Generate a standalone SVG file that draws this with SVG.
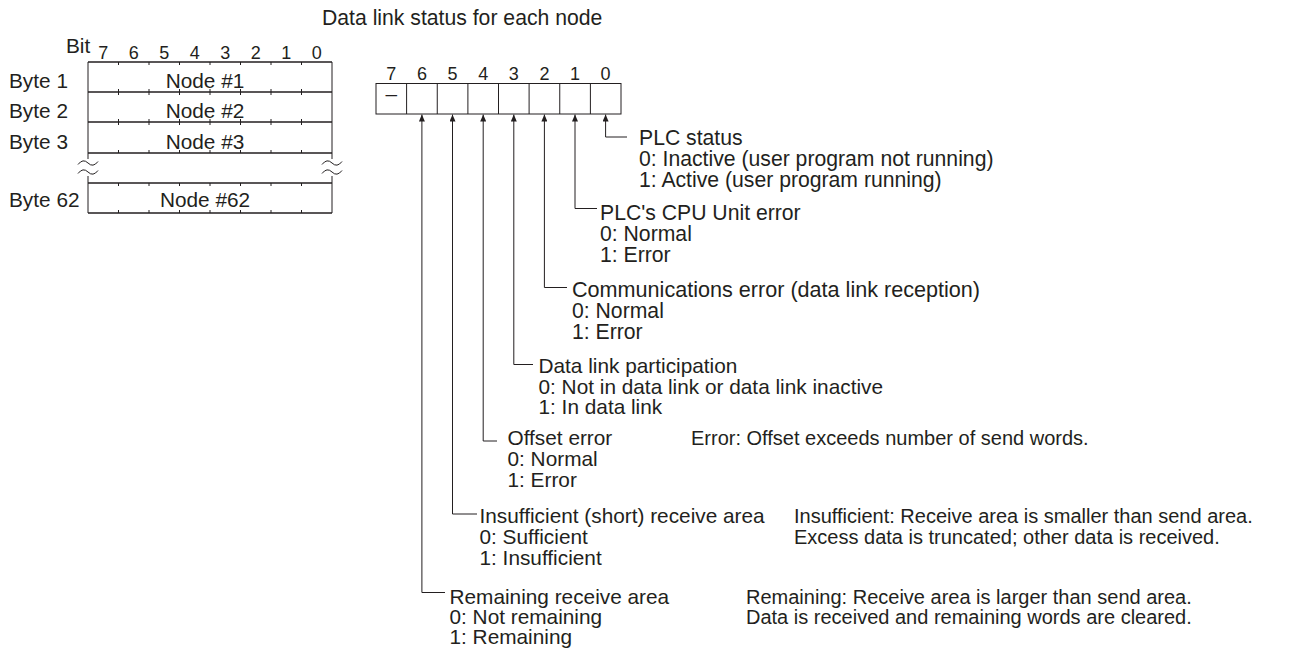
<svg xmlns="http://www.w3.org/2000/svg" width="1298" height="650" viewBox="0 0 1298 650">
  <style>
    text { font-family: "Liberation Sans", Arial, Helvetica, sans-serif; fill: #231f20; }
    .lbl { font-size: 20.8px; }
    .big { font-size: 21.2px; }
    .desc { font-size: 20px; }
    .dig { font-size: 18px; text-anchor: middle; }
    .mid { text-anchor: middle; }
    .hl { fill: none; stroke: #231f20; stroke-width: 1.5; }
    .vl { fill: none; stroke: #231f20; stroke-width: 1; }
    .tk { fill: none; stroke: #231f20; stroke-width: 1; }
    .conn { fill: none; stroke: #231f20; stroke-width: 1; }
  </style>
  <defs>
    <marker id="arr" viewBox="0 0 7 6" refX="7" refY="3" markerWidth="7" markerHeight="6" markerUnits="userSpaceOnUse" orient="auto">
      <path d="M0,0 L7,3 L0,6 z" fill="#231f20"/>
    </marker>
  </defs>
  <rect width="1298" height="650" fill="#ffffff"/>

  <text id="title" class="big" x="322" y="25">Data link status for each node</text>

  <g id="byte-table">
    <text class="lbl" x="66" y="53">Bit</text>
    <text class="dig" x="103.3" y="59">7</text>
    <text class="dig" x="133.8" y="59">6</text>
    <text class="dig" x="164.3" y="59">5</text>
    <text class="dig" x="194.8" y="59">4</text>
    <text class="dig" x="225.3" y="59">3</text>
    <text class="dig" x="255.8" y="59">2</text>
    <text class="dig" x="286.3" y="59">1</text>
    <text class="dig" x="316.8" y="59">0</text>
    <path class="hl" d="M88 62 H332 M88 92 H332 M88 122 H332 M88 153 H332 M88 183 H332 M88 213 H332"/>
    <path class="vl" d="M88 62 V159 M88 176 V213 M332 62 V159 M332 176 V213"/>
    <path class="vl" d="M78 164.5 Q83 158 88 163 Q93 168 98 161.5 M78 173.5 Q83 167 88 172 Q93 177 98 170.5 M322 164.5 Q327 158 332 163 Q337 168 342 161.5 M322 173.5 Q327 167 332 172 Q337 177 342 170.5"/>
    <path class="tk" d="M118.5 62 V65 M118.5 89 V95 M118.5 119 V125 M118.5 150 V153 M118.5 183 V186 M118.5 210 V213
      M149 62 V65 M149 89 V95 M149 119 V125 M149 150 V153 M149 183 V186 M149 210 V213
      M179.5 62 V65 M179.5 89 V95 M179.5 119 V125 M179.5 150 V153 M179.5 183 V186 M179.5 210 V213
      M210 62 V65 M210 89 V95 M210 119 V125 M210 150 V153 M210 183 V186 M210 210 V213
      M240.5 62 V65 M240.5 89 V95 M240.5 119 V125 M240.5 150 V153 M240.5 183 V186 M240.5 210 V213
      M271 62 V65 M271 89 V95 M271 119 V125 M271 150 V153 M271 183 V186 M271 210 V213
      M301.5 62 V65 M301.5 89 V95 M301.5 119 V125 M301.5 150 V153 M301.5 183 V186 M301.5 210 V213"/>
    <text class="lbl" x="9" y="88">Byte 1</text>
    <text class="lbl" x="9" y="118">Byte 2</text>
    <text class="lbl" x="9" y="149">Byte 3</text>
    <text class="lbl" x="9" y="207">Byte 62</text>
    <text class="lbl mid" x="205" y="88">Node #1</text>
    <text class="lbl mid" x="205" y="118">Node #2</text>
    <text class="lbl mid" x="205" y="149">Node #3</text>
    <text class="lbl mid" x="205" y="207">Node #62</text>
  </g>

  <g id="bit-register">
    <text class="dig" x="391.3" y="80">7</text>
    <text class="dig" x="421.9" y="80">6</text>
    <text class="dig" x="452.5" y="80">5</text>
    <text class="dig" x="483.2" y="80">4</text>
    <text class="dig" x="513.8" y="80">3</text>
    <text class="dig" x="544.4" y="80">2</text>
    <text class="dig" x="575" y="80">1</text>
    <text class="dig" x="605.6" y="80">0</text>
    <rect x="376" y="83.5" width="245" height="30.5" fill="none" stroke="#231f20" stroke-width="1"/>
    <path class="vl" d="M406.6 83.5 V114 M437.25 83.5 V114 M467.9 83.5 V114 M498.5 83.5 V114 M529.1 83.5 V114 M559.75 83.5 V114 M590.4 83.5 V114"/>
    <text class="lbl mid" x="391.3" y="101">–</text>
  </g>

  <g id="connectors">
    <path class="conn" marker-end="url(#arr)" d="M627 137 H605.6 V114.5"/>
    <path class="conn" marker-end="url(#arr)" d="M597 208.5 H575 V114.5"/>
    <path class="conn" marker-end="url(#arr)" d="M567 287.5 H544.4 V114.5"/>
    <path class="conn" marker-end="url(#arr)" d="M533 364.5 H513.8 V114.5"/>
    <path class="conn" marker-end="url(#arr)" d="M497 441 H483.2 V114.5"/>
    <path class="conn" marker-end="url(#arr)" d="M477 514 H452.5 V114.5"/>
    <path class="conn" marker-end="url(#arr)" d="M445 592.5 H421.9 V114.5"/>
  </g>

  <g id="bit0-plc-status">
    <text class="big" x="639" y="144.5">PLC status</text>
    <text class="big" x="639" y="165.5">0: Inactive (user program not running)</text>
    <text class="big" x="639" y="186.5">1: Active (user program running)</text>
  </g>

  <g id="bit1-cpu-error">
    <text class="big" x="600" y="220">PLC's CPU Unit error</text>
    <text class="big" x="600" y="241">0: Normal</text>
    <text class="big" x="600" y="262">1: Error</text>
  </g>

  <g id="bit2-comm-error">
    <text class="big" x="572" y="297" style="font-size:21.6px">Communications error (data link reception)</text>
    <text class="big" x="572" y="318">0: Normal</text>
    <text class="big" x="572" y="338.5">1: Error</text>
  </g>

  <g id="bit3-participation">
    <text class="lbl" x="538.5" y="373">Data link participation</text>
    <text class="lbl" x="538.5" y="393.5">0: Not in data link or data link inactive</text>
    <text class="lbl" x="538.5" y="414">1: In data link</text>
  </g>

  <g id="bit4-offset-error">
    <text class="lbl" x="507.5" y="445">Offset error</text>
    <text class="lbl" x="507.5" y="465.5">0: Normal</text>
    <text class="lbl" x="507.5" y="486.5">1: Error</text>
    <text class="desc" x="691" y="445">Error: Offset exceeds number of send words.</text>
  </g>

  <g id="bit5-insufficient">
    <text class="lbl" x="479.5" y="523">Insufficient (short) receive area</text>
    <text class="lbl" x="479.5" y="544">0: Sufficient</text>
    <text class="lbl" x="479.5" y="565">1: Insufficient</text>
    <text class="desc" x="794" y="523">Insufficient: Receive area is smaller than send area.</text>
    <text class="desc" x="794" y="544">Excess data is truncated; other data is received.</text>
  </g>

  <g id="bit6-remaining">
    <text class="lbl" x="449.5" y="603.5">Remaining receive area</text>
    <text class="lbl" x="449.5" y="624">0: Not remaining</text>
    <text class="lbl" x="449.5" y="644">1: Remaining</text>
    <text class="desc" x="746" y="603.5">Remaining: Receive area is larger than send area.</text>
    <text class="desc" x="746" y="624">Data is received and remaining words are cleared.</text>
  </g>
</svg>
